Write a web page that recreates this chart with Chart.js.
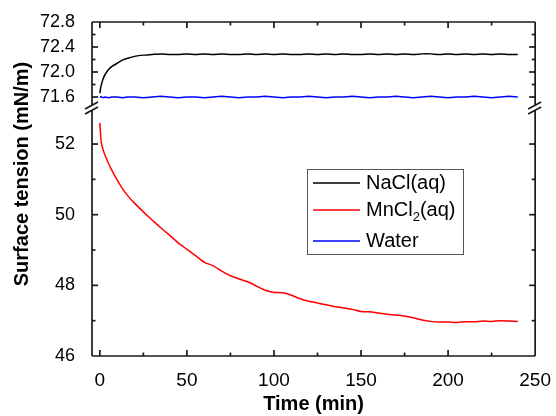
<!DOCTYPE html>
<html>
<head>
<meta charset="utf-8">
<script src="https://cdn.jsdelivr.net/npm/chart.js@4.4.1/dist/chart.umd.min.js"></script>
<style>
  html, body { margin: 0; padding: 0; background: #fff; }
  canvas { display: block; }
</style>
</head>
<body>
<canvas id="tensionChart" width="556" height="416"></canvas>
<script>
// time in minutes
const times = [0, 0.5, 1, 2, 3, 5, 7, 10, 13, 16, 20,
  25, 30, 35, 40, 45, 50, 55, 60, 65, 70, 75, 80, 85, 90, 95, 100,
  105, 110, 115, 120, 125, 130, 135, 140, 145, 150, 155, 160, 165, 170,
  175, 180, 185, 190, 195, 200, 205, 210, 215, 220, 225, 230, 235, 240];

// surface tension, mN/m
const nacl = [71.66, 71.75, 71.81, 71.90, 71.96, 72.04, 72.09, 72.14, 72.19, 72.22, 72.25,
  72.27, 72.28, 72.29, 72.28, 72.28, 72.29, 72.28, 72.29, 72.28, 72.29, 72.28, 72.28, 72.29, 72.28, 72.29, 72.28,
  72.29, 72.28, 72.28, 72.29, 72.28, 72.29, 72.28, 72.29, 72.28, 72.28, 72.29, 72.28, 72.29, 72.28,
  72.29, 72.28, 72.29, 72.29, 72.28, 72.29, 72.28, 72.29, 72.28, 72.29, 72.28, 72.29, 72.28, 72.28];

const mncl2 = [52.60, 52.22, 52.00, 51.82, 51.68, 51.45, 51.25, 50.98, 50.74, 50.54, 50.32,
  50.08, 49.85, 49.63, 49.42, 49.20, 49.02, 48.84, 48.65, 48.56, 48.40, 48.27, 48.18, 48.10, 47.98, 47.86, 47.80,
  47.79, 47.72, 47.62, 47.55, 47.50, 47.45, 47.40, 47.36, 47.32, 47.26, 47.25, 47.22, 47.18, 47.16,
  47.13, 47.08, 47.02, 46.98, 46.96, 46.96, 46.95, 46.97, 46.97, 46.99, 46.98, 47.00, 46.99, 46.98];

const water = [71.61, 71.60, 71.60, 71.59, 71.60, 71.59, 71.60, 71.60, 71.59, 71.60, 71.60,
  71.59, 71.60, 71.61, 71.60, 71.59, 71.60, 71.60, 71.59, 71.60, 71.61, 71.60, 71.59, 71.60, 71.60, 71.61, 71.60,
  71.59, 71.60, 71.60, 71.61, 71.60, 71.59, 71.60, 71.60, 71.61, 71.60, 71.59, 71.60, 71.60, 71.61,
  71.60, 71.59, 71.60, 71.61, 71.60, 71.59, 71.60, 71.60, 71.61, 71.60, 71.59, 71.60, 71.61, 71.60];

const xTicks = [0, 50, 100, 150, 200, 250];
const xMinor = [25, 75, 125, 175, 225];
const topTicks = [71.6, 72.0, 72.4, 72.8];
const topMinor = [71.8, 72.2, 72.6];
const botTicks = [46, 48, 50, 52];
const botMinor = [47, 49, 51];

const FONT = '"Liberation Sans", Arial, sans-serif';

function pts(values) {
  return values.map((v, i) => ({ x: times[i], y: v }));
}

// frame, inward ticks, axis break, legend and y title
const decorations = {
  id: 'decorations',
  afterDraw(chart) {
    const ctx = chart.ctx;
    const a = chart.chartArea;
    const sx = chart.scales.x, yt = chart.scales.yTop, yb = chart.scales.yBot;
    const brk = yt.bottom;
    ctx.save();
    ctx.strokeStyle = '#1a1a1a';
    ctx.lineWidth = 1.7;

    const line = (x1, y1, x2, y2) => {
      ctx.beginPath(); ctx.moveTo(x1, y1); ctx.lineTo(x2, y2); ctx.stroke();
    };

    // frame with gaps at the break
    line(a.left, a.bottom, a.right, a.bottom);
    line(a.left, a.top, a.right, a.top);
    [a.left, a.right].forEach(x => {
      line(x, a.top, x, brk - 3);
      line(x, brk + 2, x, a.bottom);
      line(x - 7, brk + 1, x + 6, brk - 6);
      line(x - 7, brk + 6, x + 6, brk - 1);
    });

    // ticks pointing inward
    const major = 6, minor = 3.5;
    xTicks.concat(xMinor).forEach(v => {
      const px = sx.getPixelForValue(v);
      const len = xTicks.includes(v) ? major : minor;
      if (px > a.left + 1 && px < a.right - 1) {
        line(px, a.bottom, px, a.bottom - len);
        line(px, a.top, px, a.top + len);
      }
    });
    const yTickPairs = [
      [yt, topTicks, topMinor],
      [yb, botTicks, botMinor]
    ];
    yTickPairs.forEach(([sc, maj, mins]) => {
      maj.concat(mins).forEach(v => {
        const py = sc.getPixelForValue(v);
        const len = maj.includes(v) ? major : minor;
        if (py > a.top + 1 && py < a.bottom - 1) {
          line(a.left, py, a.left + len, py);
          line(a.right, py, a.right - len, py);
        }
      });
    });

    // y title
    ctx.fillStyle = '#000';
    ctx.font = 'bold 20px ' + FONT;
    ctx.textAlign = 'center';
    ctx.textBaseline = 'middle';
    ctx.save();
    ctx.translate(22, 174);
    ctx.rotate(-Math.PI / 2);
    ctx.fillText('Surface tension (mN/m)', 0, 0);
    ctx.restore();

    // legend
    const lx = 307, ly = 169, lw = 156, lh = 85;
    ctx.fillStyle = '#fff';
    ctx.fillRect(lx, ly, lw, lh);
    ctx.strokeStyle = '#555';
    ctx.lineWidth = 1;
    ctx.strokeRect(lx + 0.5, ly + 0.5, lw, lh);
    const rows = [
      { ds: 0, y: 183 },
      { ds: 1, y: 210 },
      { ds: 2, y: 241 }
    ];
    ctx.textAlign = 'left';
    rows.forEach(r => {
      const d = chart.data.datasets[r.ds];
      ctx.strokeStyle = d.borderColor;
      ctx.lineWidth = 1.5;
      line(313, r.y, 360, r.y);
      ctx.fillStyle = '#000';
      let tx = 366;
      d.legendParts.forEach(p => {
        ctx.font = (p.sub ? '13px ' : '20px ') + FONT;
        ctx.fillText(p.text, tx, r.y + (p.sub ? 7 : 0));
        tx += ctx.measureText(p.text).width;
      });
    });
    ctx.restore();
  }
};

new Chart(document.getElementById('tensionChart'), {
  type: 'line',
  data: {
    datasets: [
      {
        label: 'NaCl(aq)', legendParts: [{ text: 'NaCl(aq)' }],
        data: pts(nacl), yAxisID: 'yTop',
        borderColor: '#000000', borderWidth: 1.5, pointRadius: 0, tension: 0.2
      },
      {
        label: 'MnCl2(aq)', legendParts: [{ text: 'MnCl' }, { text: '2', sub: true }, { text: '(aq)' }],
        data: pts(mncl2), yAxisID: 'yBot',
        borderColor: '#ff0000', borderWidth: 1.5, pointRadius: 0, tension: 0.2
      },
      {
        label: 'Water', legendParts: [{ text: 'Water' }],
        data: pts(water), yAxisID: 'yTop',
        borderColor: '#0000ff', borderWidth: 1.5, pointRadius: 0, tension: 0
      }
    ]
  },
  options: {
    responsive: false,
    animation: false,
    devicePixelRatio: 1,
    layout: { padding: { top: 22, right: 15, left: 0, bottom: 0 } },
    plugins: { legend: { display: false }, tooltip: { enabled: false } },
    scales: {
      x: {
        type: 'linear', min: -4.5, max: 250,
        afterBuildTicks: axis => { axis.ticks = xTicks.map(v => ({ value: v })); },
        afterFit: axis => { axis.height = 60; },
        grid: { display: false }, border: { display: false },
        ticks: { color: '#000', padding: 5, autoSkip: false, maxRotation: 0,
          font: { family: FONT, size: 19 } },
        title: {
          display: true, text: 'Time (min)', color: '#000',
          padding: { top: 0, bottom: 0 },
          font: { family: FONT, size: 20, weight: 'bold' }
        }
      },
      // the first scale in a stack is laid out at the bottom
      yBot: {
        type: 'linear', position: 'left', stack: 'y', stackWeight: 248,
        min: 46, max: 53.02,
        afterBuildTicks: axis => { axis.ticks = botTicks.map(v => ({ value: v })); },
        afterFit: axis => { axis.width = 92; },
        grid: { display: false }, border: { display: false },
        ticks: { color: '#000', padding: 9, autoSkip: false, font: { family: FONT, size: 18 },
          callback: v => String(v) }
      },
      yTop: {
        type: 'linear', position: 'left', stack: 'y', stackWeight: 86,
        min: 71.424, max: 72.8,
        afterBuildTicks: axis => { axis.ticks = topTicks.map(v => ({ value: v })); },
        afterFit: axis => { axis.width = 92; },
        grid: { display: false }, border: { display: false },
        ticks: { color: '#000', padding: 9, autoSkip: false, font: { family: FONT, size: 18 },
          callback: v => v.toFixed(1) }
      }
    }
  },
  plugins: [decorations]
});
</script>
</body>
</html>
